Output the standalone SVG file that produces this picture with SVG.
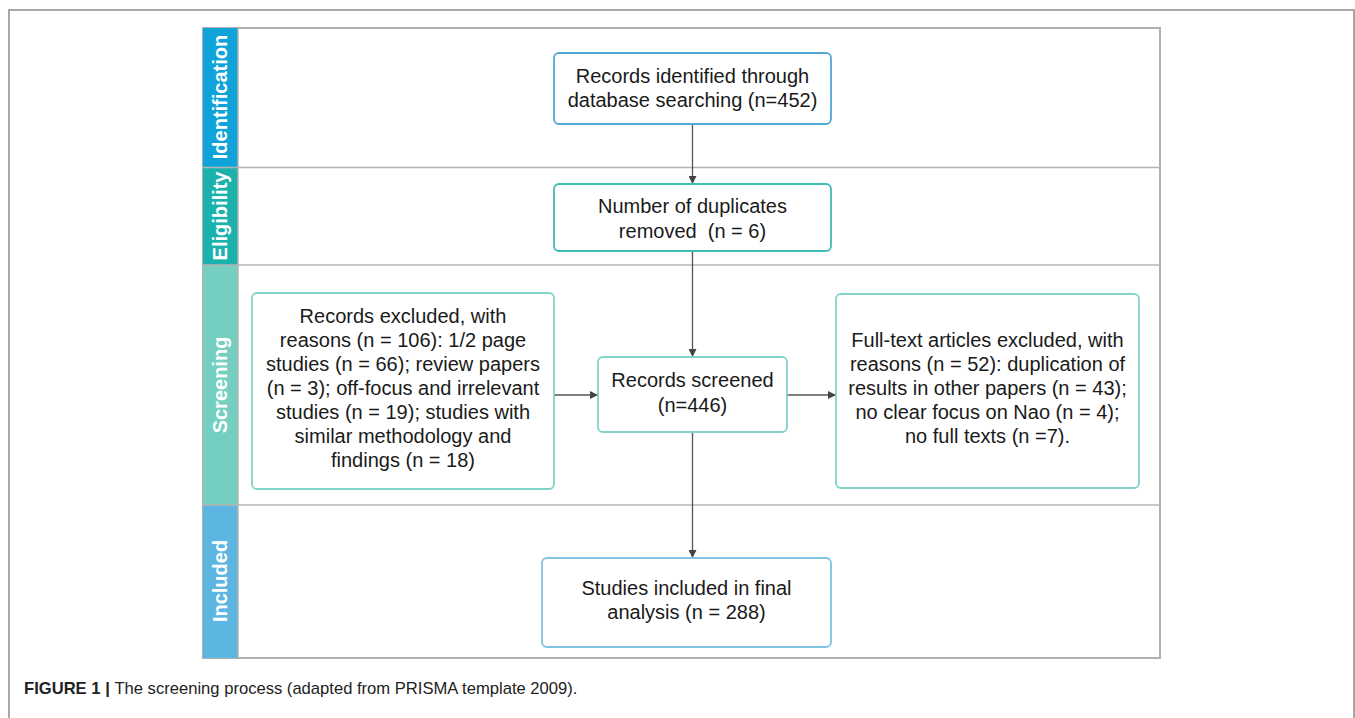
<svg xmlns="http://www.w3.org/2000/svg" width="1355" height="718" viewBox="0 0 1355 718">
<defs>
<style>
.t{font-family:"Liberation Sans",Arial,sans-serif;font-size:20px;fill:#1a1a1a;text-anchor:middle}
.lane{font-family:"Liberation Sans",Arial,sans-serif;font-size:20px;font-weight:bold;fill:#ffffff;text-anchor:middle}
.box{fill:#ffffff;stroke-width:1.8}
.div{stroke:#b4b4b4;stroke-width:1.5;fill:none}
.con{stroke:#555555;stroke-width:1.3;fill:none}
.cap{font-family:"Liberation Sans",Arial,sans-serif;font-size:16.6px;fill:#222222}
</style>
<marker id="ah" viewBox="0 0 10 10" refX="10" refY="5" markerWidth="10" markerHeight="8" markerUnits="userSpaceOnUse" orient="auto">
<path d="M0,0 L10,5 L0,10 z" fill="#444444"/>
</marker>
</defs>
<rect width="1355" height="718" fill="#ffffff"/>
<path d="M9,718 L9,10 L1354,10 L1354,718" fill="none" stroke="#8a8a8a" stroke-width="1.5"/>

<g id="lanes">
<rect x="203" y="28" width="957" height="630" fill="#ffffff" stroke="#b0b0b0" stroke-width="2"/>
<rect x="203" y="28" width="35" height="139.5" fill="#0fa3d9"/>
<rect x="203" y="167.5" width="35" height="97.5" fill="#1bb2ae"/>
<rect x="203" y="265" width="35" height="240" fill="#74cfc1"/>
<rect x="203" y="505" width="35" height="153" fill="#5db6e1"/>
<line class="div" x1="203" y1="167.5" x2="1160" y2="167.5"/>
<line class="div" x1="203" y1="265" x2="1160" y2="265"/>
<line class="div" x1="203" y1="505" x2="1160" y2="505"/>
<line class="div" x1="238" y1="28" x2="238" y2="658"/>
<text class="lane" transform="translate(227,97) rotate(-90)">Identification</text>
<text class="lane" transform="translate(227,216) rotate(-90)">Eligibility</text>
<text class="lane" transform="translate(227,385) rotate(-90)">Screening</text>
<text class="lane" transform="translate(227,581) rotate(-90)">Included</text>
</g>

<g id="connectors">
<line class="con" x1="692.5" y1="124" x2="692.5" y2="184" marker-end="url(#ah)"/>
<line class="con" x1="692.5" y1="251" x2="692.5" y2="357" marker-end="url(#ah)"/>
<line class="con" x1="692.5" y1="432" x2="692.5" y2="558" marker-end="url(#ah)"/>
<line class="con" x1="554" y1="395" x2="598" y2="395" marker-end="url(#ah)"/>
<line class="con" x1="787" y1="395" x2="836" y2="395" marker-end="url(#ah)"/>
</g>

<g id="identified">
<rect class="box" x="554" y="53" width="277" height="71" rx="5" stroke="#4fa9d6"/>
<text class="t" x="692.5" y="83">Records identified through</text>
<text class="t" x="692.5" y="107">database searching (n=452)</text>
</g>

<g id="duplicates">
<rect class="box" x="554" y="184" width="277" height="67" rx="5" stroke="#3cbcb3"/>
<text class="t" x="692.5" y="213">Number of duplicates</text>
<text class="t" x="692.5" y="238" xml:space="preserve">removed  (n = 6)</text>
</g>

<g id="excluded">
<rect class="box" x="252" y="293" width="302" height="196" rx="5" stroke="#80d4ca"/>
<text class="t" x="403" y="323">Records excluded, with</text>
<text class="t" x="403" y="347">reasons (n = 106): 1/2 page</text>
<text class="t" x="403" y="371">studies (n = 66); review papers</text>
<text class="t" x="403" y="395">(n = 3); off-focus and irrelevant</text>
<text class="t" x="403" y="419">studies (n = 19); studies with</text>
<text class="t" x="403" y="443">similar methodology and</text>
<text class="t" x="403" y="467">findings (n = 18)</text>
</g>

<g id="screened">
<rect class="box" x="598" y="357" width="189" height="75" rx="5" stroke="#80d4ca"/>
<text class="t" x="692.5" y="387">Records screened</text>
<text class="t" x="692.5" y="412">(n=446)</text>
</g>

<g id="fulltext">
<rect class="box" x="836" y="294" width="303" height="194" rx="5" stroke="#80d4ca"/>
<text class="t" x="987.5" y="347">Full-text articles excluded, with</text>
<text class="t" x="987.5" y="371">reasons (n = 52): duplication of</text>
<text class="t" x="987.5" y="395">results in other papers (n = 43);</text>
<text class="t" x="987.5" y="419">no clear focus on Nao (n = 4);</text>
<text class="t" x="987.5" y="443">no full texts (n =7).</text>
</g>

<g id="included">
<rect class="box" x="542" y="558" width="289" height="89" rx="5" stroke="#7fc4e0"/>
<text class="t" x="686.5" y="595">Studies included in final</text>
<text class="t" x="686.5" y="619">analysis (n = 288)</text>
</g>

<text class="cap" x="24" y="694"><tspan font-weight="bold">FIGURE 1 | </tspan>The screening process (adapted from PRISMA template 2009).</text>
</svg>
